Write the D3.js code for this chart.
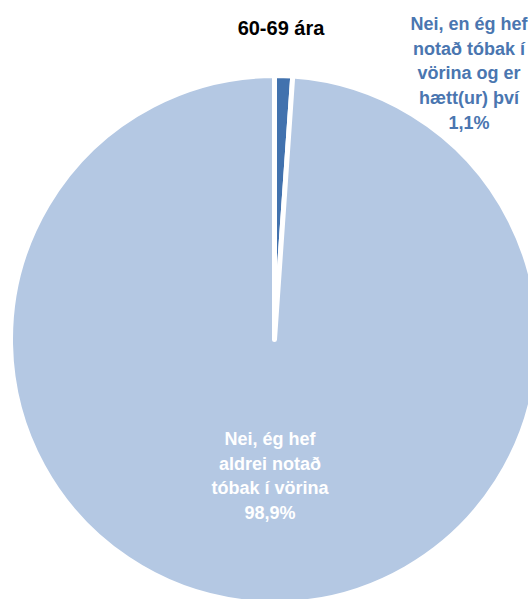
<!DOCTYPE html>
<html>
<head>
<meta charset="utf-8">
<script src="https://cdn.jsdelivr.net/npm/d3@7"></script>
<style>
  body { margin: 0; background: #fff; }
  text { font-family: "Liberation Sans", Arial, sans-serif; font-weight: bold; }
</style>
</head>
<body>
<div class="chart"></div>
<script>
// data
var title = "60-69 ára";
var categories = ["Nei, en ég hef notað tóbak í vörina og er hætt(ur) því",
                  "Nei, ég hef aldrei notað tóbak í vörina"];
var values = [1.1, 98.9];
var valueLabels = ["1,1%", "98,9%"];
var labelLines = [
  ["Nei, en ég hef", "notað tóbak í", "vörina og er", "hætt(ur) því", "1,1%"],
  ["Nei, ég hef", "aldrei notað", "tóbak í vörina", "98,9%"]
];
var colors = ["#4272AE", "#B4C8E3"];
var labelColors = ["#4A76B0", "#ffffff"];

var svgWidth = 528;
var svgHeight = 599;

var cx = 274.5, cy = 339.5, radius = 264;

var svg = d3.select(".chart")
  .append("svg")
  .attr("width", svgWidth)
  .attr("height", svgHeight);

var chartGroup = svg.append("g")
  .attr("transform", `translate(${cx}, ${cy})`);

var pie = d3.pie().sort(null).startAngle(0).endAngle(2 * Math.PI);
var arc = d3.arc().innerRadius(0).outerRadius(radius);

var arcs = pie(values);

chartGroup.selectAll("path")
  .data(arcs)
  .enter()
  .append("path")
  .attr("d", arc)
  .attr("fill", (d, i) => colors[i])
  .attr("stroke", "#fff")
  .attr("stroke-width", 5)
  .attr("stroke-linejoin", "round");

// title
svg.append("text")
  .attr("x", 281)
  .attr("y", 35)
  .attr("text-anchor", "middle")
  .attr("font-size", "20px")
  .attr("fill", "#000")
  .text(title);

// slice labels (positions relative to the pie centre)
var labelPos = [[194.5, -309.5], [-4.5, 105.5]];
var lineHeight = 24.7;

labelLines.forEach(function (lines, i) {
  var t = chartGroup.append("text")
    .attr("text-anchor", "middle")
    .attr("font-size", "18px")
    .attr("fill", labelColors[i]);
  lines.forEach(function (line, j) {
    t.append("tspan")
      .attr("x", labelPos[i][0])
      .attr("y", labelPos[i][1] + j * lineHeight)
      .text(line);
  });
});
</script>
</body>
</html>
